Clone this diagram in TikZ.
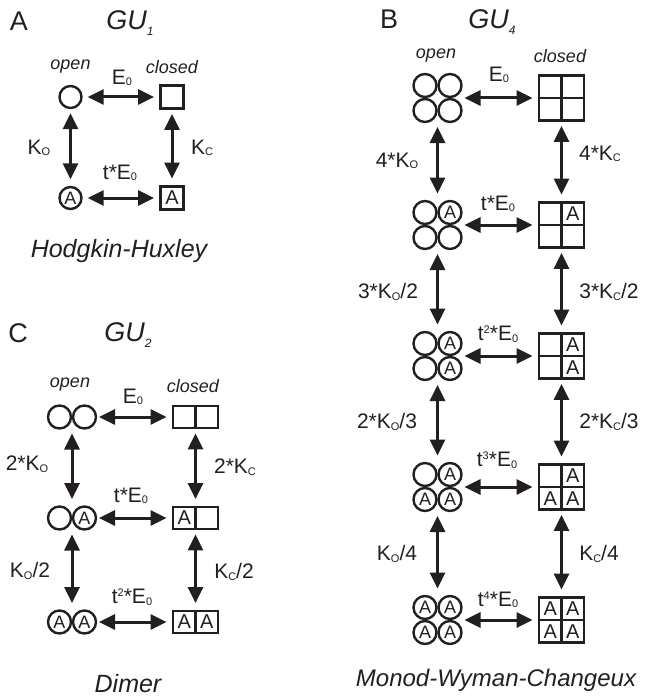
\documentclass[tikz,border=0pt]{standalone}
\usepackage{fontspec}
\setmainfont{Liberation Sans}
\usetikzlibrary{arrows.meta,calc}
\definecolor{ink}{RGB}{35,31,32}
\newcommand{\lo}[1]{\raisebox{-1.5pt}{\fontsize{11}{11}\selectfont #1}}
\newcommand{\hi}[1]{\raisebox{7pt}{\fontsize{11}{11}\selectfont #1}}
\newcommand{\gs}[1]{\raisebox{-5.5pt}{\fontsize{12}{12}\selectfont #1}}
% states made of two or four subunits
\newcommand{\duoO}[4]{%
  \node[grp,minimum width=50pt,minimum height=25pt] (#1) at (#2) {};
  \node[ocell] (#1a) at ($(#1)+(-12.5,0)$) {#3};
  \node[ocell] (#1b) at ($(#1)+(12.5,0)$) {#4};
}
\newcommand{\duoC}[4]{%
  \node[cbox,minimum width=45pt,minimum height=22pt] (#1) at (#2) {};
  \draw[ink,line width=2.4pt] (#1.north) -- (#1.south);
  \node[cin] (#1a) at ($(#1)+(-11.25,0)$) {#3};
  \node[cin] (#1b) at ($(#1)+(11.25,0)$) {#4};
}
\newcommand{\quadO}[6]{%
  \node[grp,minimum width=50pt,minimum height=50pt] (#1) at (#2) {};
  \node[ocell] (#1a) at ($(#1)+(-12.5,-12.5)$) {#3};
  \node[ocell] (#1b) at ($(#1)+(12.5,-12.5)$) {#4};
  \node[ocell] (#1c) at ($(#1)+(-12.5,12.5)$) {#5};
  \node[ocell] (#1d) at ($(#1)+(12.5,12.5)$) {#6};
}
\newcommand{\quadC}[6]{%
  \node[cbox,minimum size=45pt] (#1) at (#2) {};
  \draw[ink,line width=2.4pt] (#1.north) -- (#1.south) (#1.west) -- (#1.east);
  \node[cin] (#1a) at ($(#1)+(-11.25,-11.25)$) {#3};
  \node[cin] (#1b) at ($(#1)+(11.25,-11.25)$) {#4};
  \node[cin] (#1c) at ($(#1)+(-11.25,11.25)$) {#5};
  \node[cin] (#1d) at ($(#1)+(11.25,11.25)$) {#6};
}

\begin{document}
\begin{tikzpicture}[x=1pt,y=-1pt,
  grp/.style={inner sep=0pt,outer sep=0pt},
  ocell/.style={circle,draw=ink,line width=2.4pt,minimum size=23pt,inner sep=0pt,
    text=ink,font=\fontsize{18}{18}\selectfont},
  cbox/.style={rectangle,draw=ink,line width=2.8pt,inner sep=0pt,
    text=ink,font=\fontsize{20}{20}\selectfont},
  cin/.style={inner sep=0pt,text=ink,font=\fontsize{20}{20}\selectfont},
  dbl/.style={draw=ink,line width=3pt,
    {Triangle[length=16pt,width=15pt]}-{Triangle[length=16pt,width=15pt]}},
  hz/.style={dbl,shorten <=2pt,shorten >=5pt},
  vt/.style={dbl,shorten <=4pt,shorten >=6.5pt},
  lbl/.style={inner sep=0pt,text=ink,font=\fontsize{21}{21}\selectfont},
  tag/.style={inner sep=0pt,text=ink,font=\fontsize{18}{18}\selectfont\itshape},
  ttl/.style={inner sep=0pt,text=ink,font=\fontsize{25}{25}\selectfont\itshape},
  gu/.style={inner sep=0pt,text=ink,font=\fontsize{27}{27}\selectfont\itshape},
  lett/.style={inner sep=0pt,text=ink,font=\fontsize{27}{27}\selectfont}]
\useasboundingbox (0,0) rectangle (647,698);

% A: one subunit
\node[lett] (capA) at (19,21) {A};
\node[gu] (guA) at (130,23) {GU\gs{1}};
\node[tag] (opA) at (70.5,67) {open};
\node[tag] (clA) at (172,67) {closed};
\node[ocell,minimum size=22pt] (a0) at (70.5,97) {};
\node[cbox,minimum size=23pt] (a1) at (172,97) {};
\node[ocell,minimum size=22pt] (a2) at (70.5,198) {A};
\node[cbox,minimum size=23pt] (a3) at (172,198) {A};
\draw[hz,shorten <=5pt] (a0) -- (a1);
\draw[hz,shorten <=5pt] (a2) -- (a3);
\draw[vt] (a0) -- (a2);
\draw[vt] (a1) -- (a3);
\node[lbl] (eA0) at (122,78) {E\lo{0}};
\node[lbl] (eA1) at (120,173) {t*E\lo{0}};
\node[lbl] (kAo) at (39,148) {K\lo{O}};
\node[lbl] (kAc) at (202,148) {K\lo{C}};
\node[ttl] (hh) at (119,251) {Hodgkin-Huxley};

% C: dimer
\node[lett] (capC) at (18,333) {C};
\node[gu] (guC) at (128,335) {GU\gs{2}};
\node[tag] (opC) at (70,385) {open};
\node[tag] (clC) at (193,386) {closed};
\duoO{c0}{72,417}{}{}
\duoC{c1}{195.5,417}{}{}
\duoO{c2}{72,518}{}{A}
\duoC{c3}{195.5,518}{A}{}
\duoO{c4}{72,622}{A}{A}
\duoC{c5}{195.5,622}{A}{A}
\draw[hz] (c0) -- (c1);
\draw[hz] (c2) -- (c3);
\draw[hz] (c4) -- (c5);
\draw[vt] (c0) -- (c2);
\draw[vt] (c2) -- (c4);
\draw[vt] (c1) -- (c3);
\draw[vt] (c3) -- (c5);
\node[lbl] (eC0) at (133,397) {E\lo{0}};
\node[lbl] (eC1) at (131,496) {t*E\lo{0}};
\node[lbl] (eC2) at (132,597) {t\hi{2}*E\lo{0}};
\node[lbl] (kCo1) at (27,464) {2*K\lo{O}};
\node[lbl] (kCc1) at (235,467) {2*K\lo{C}};
\node[lbl] (kCo2) at (30,571) {K\lo{O}/2};
\node[lbl] (kCc2) at (234,572) {K\lo{C}/2};
\node[ttl] (dim) at (128,684) {Dimer};

% B: tetramer
\node[lett] (capB) at (389,19) {B};
\node[gu] (guB) at (492,22) {GU\gs{4}};
\node[tag] (opB) at (436,56) {open};
\node[tag] (clB) at (560,56) {closed};
\quadO{b0}{437.5,98}{}{}{}{}
\quadC{b1}{561.5,98}{}{}{}{}
\quadO{b2}{437.5,225}{}{A}{}{}
\quadC{b3}{561.5,225}{}{A}{}{}
\quadO{b4}{437.5,356}{}{A}{}{A}
\quadC{b5}{561.5,356}{}{A}{}{A}
\quadO{b6}{437.5,487}{}{A}{A}{A}
\quadC{b7}{561.5,487}{}{A}{A}{A}
\quadO{b8}{437.5,620}{A}{A}{A}{A}
\quadC{b9}{561.5,620}{A}{A}{A}{A}
\draw[hz] (b0) -- (b1);
\draw[hz] (b2) -- (b3);
\draw[hz] (b4) -- (b5);
\draw[hz] (b6) -- (b7);
\draw[hz] (b8) -- (b9);
\draw[vt] (b0) -- (b2);
\draw[vt] (b2) -- (b4);
\draw[vt] (b4) -- (b6);
\draw[vt] (b6) -- (b8);
\draw[vt] (b1) -- (b3);
\draw[vt] (b3) -- (b5);
\draw[vt] (b5) -- (b7);
\draw[vt] (b7) -- (b9);
\node[lbl] (eB0) at (499,75) {E\lo{0}};
\node[lbl] (eB1) at (498,204) {t*E\lo{0}};
\node[lbl] (eB2) at (498,334) {t\hi{2}*E\lo{0}};
\node[lbl] (eB3) at (497,460) {t\hi{3}*E\lo{0}};
\node[lbl] (eB4) at (498,600) {t\hi{4}*E\lo{0}};
\node[lbl] (kBo1) at (397,161) {4*K\lo{O}};
\node[lbl] (kBc1) at (600,154) {4*K\lo{C}};
\node[lbl] (kBo2) at (388,292) {3*K\lo{O}/2};
\node[lbl] (kBc2) at (609,292) {3*K\lo{C}/2};
\node[lbl] (kBo3) at (387,422) {2*K\lo{O}/3};
\node[lbl] (kBc3) at (609,422) {2*K\lo{C}/3};
\node[lbl] (kBo4) at (397,554) {K\lo{O}/4};
\node[lbl] (kBc4) at (599,554) {K\lo{C}/4};
\node[ttl,font=\fontsize{24}{24}\selectfont\itshape] (mwc) at (496,680) {Monod-Wyman-Changeux};
\end{tikzpicture}
\end{document}
